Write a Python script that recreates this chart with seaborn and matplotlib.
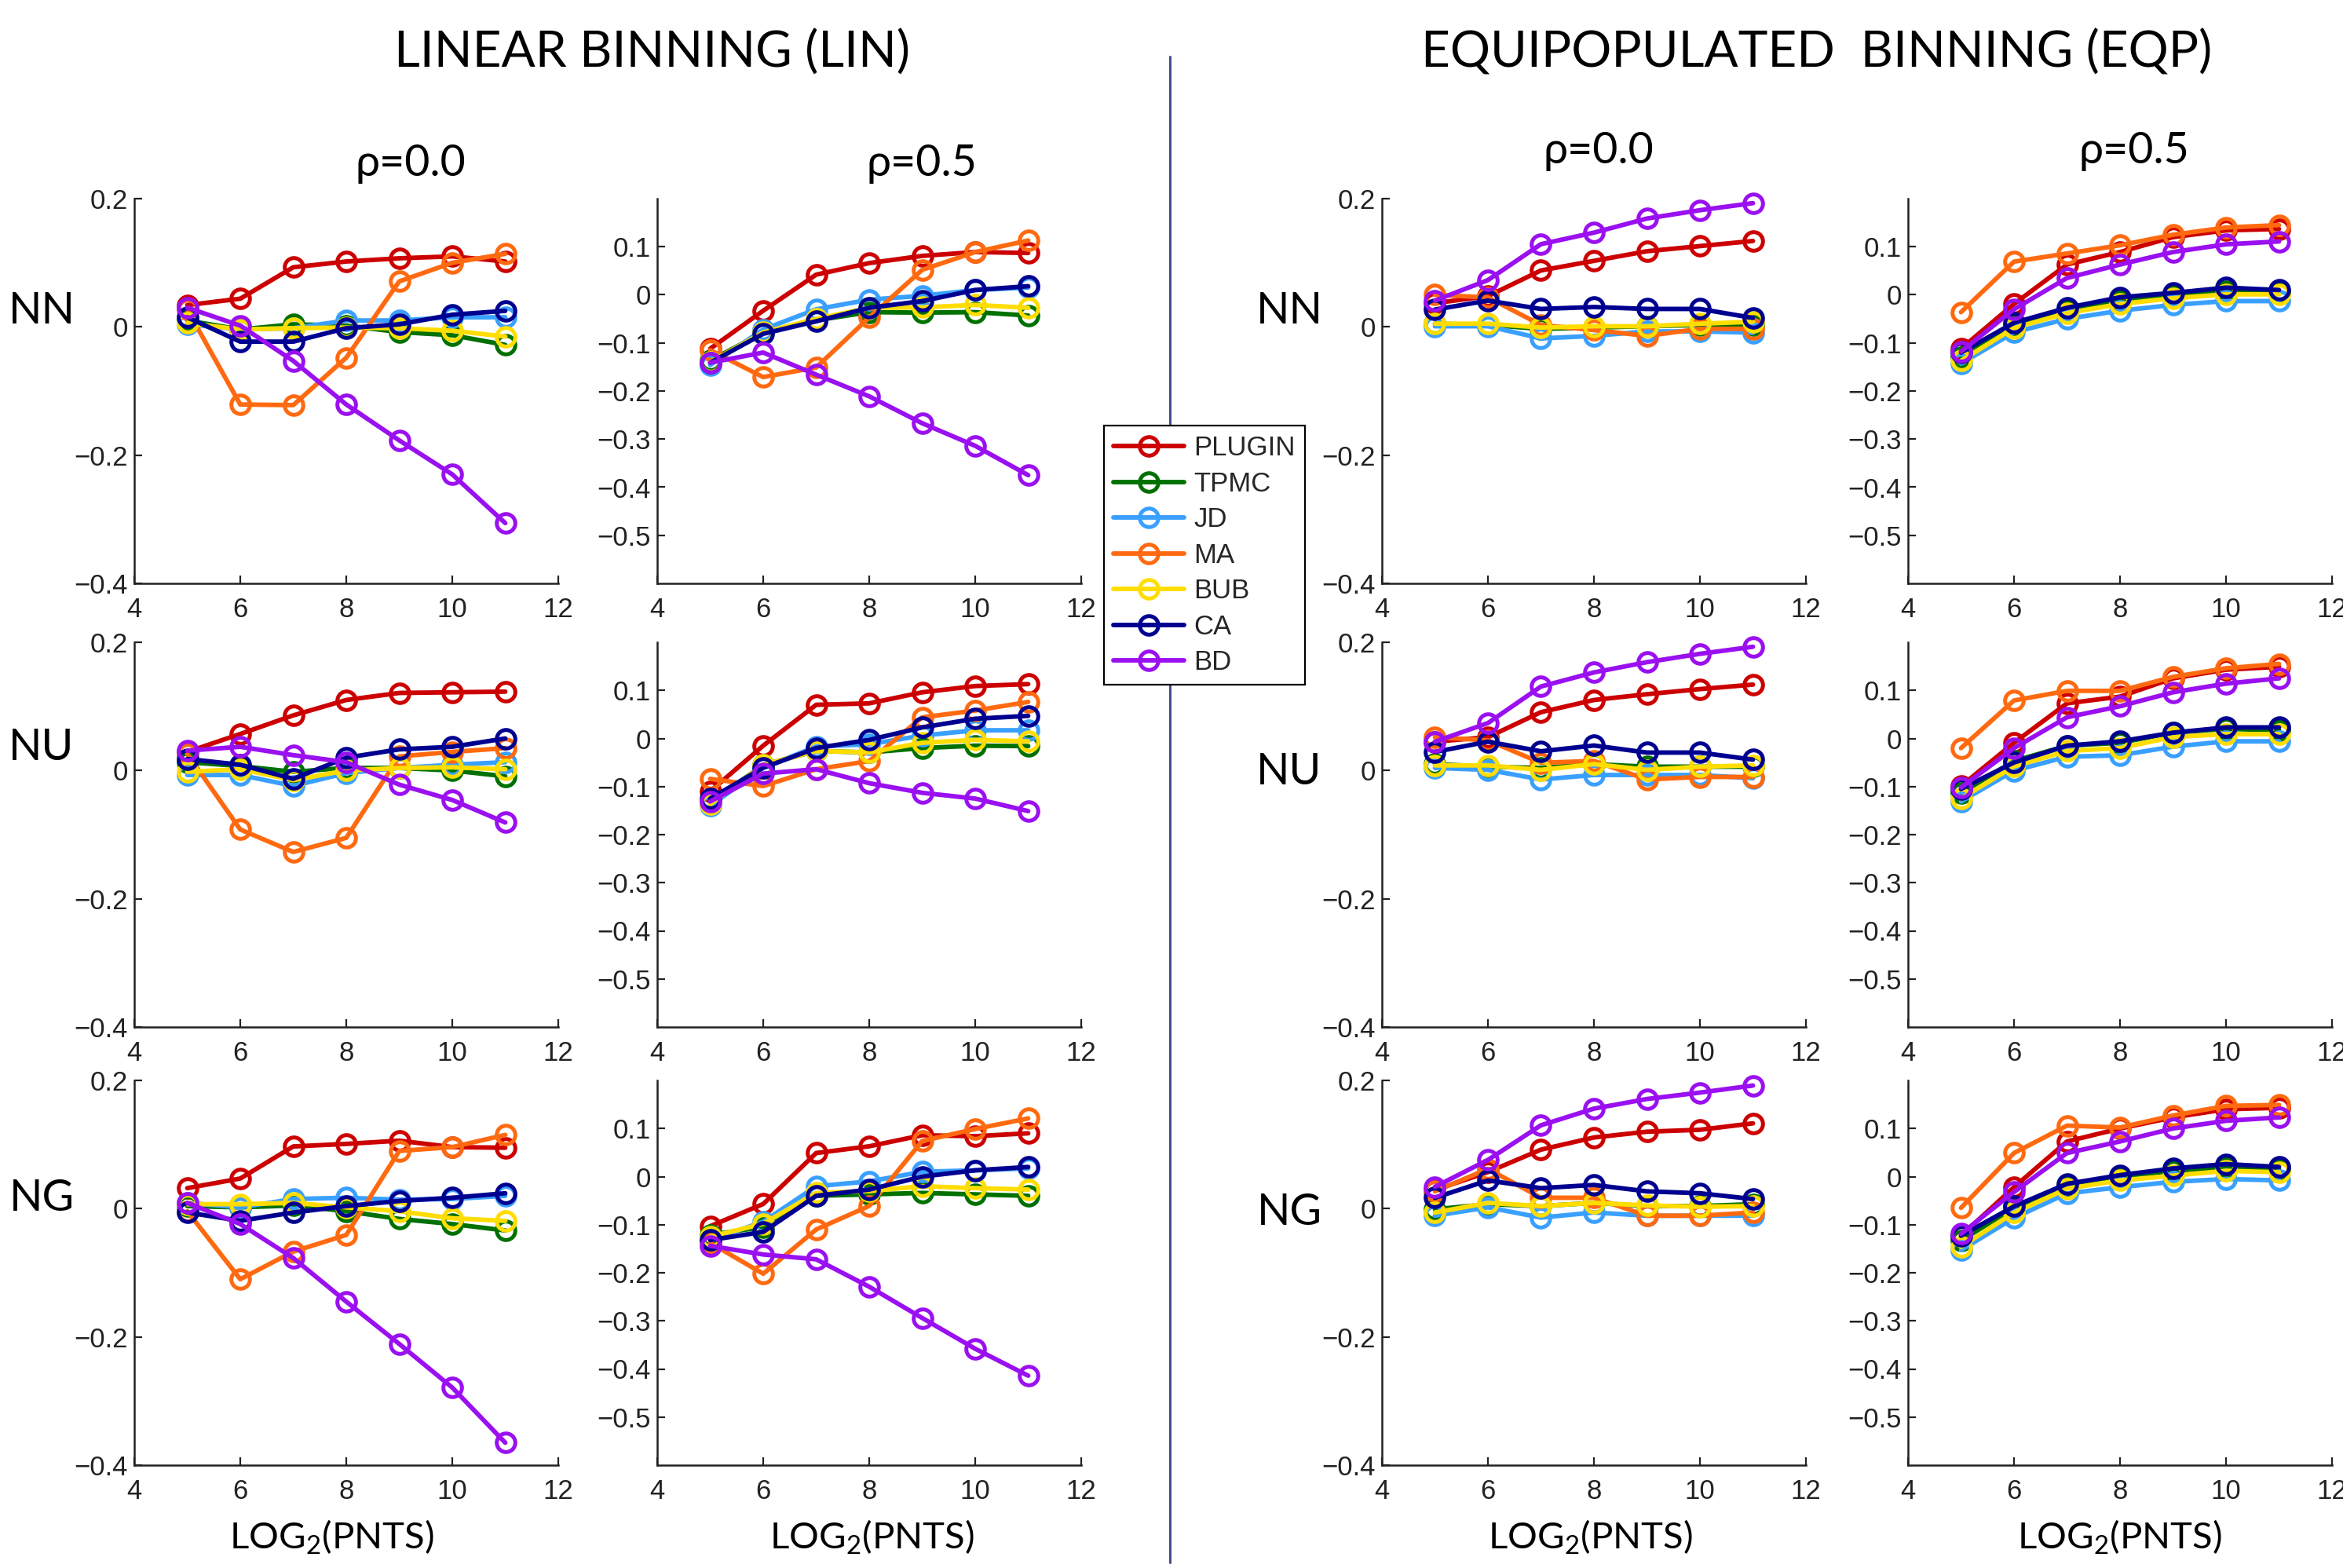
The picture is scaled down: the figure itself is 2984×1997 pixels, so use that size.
import matplotlib
matplotlib.use("Agg")
import matplotlib.pyplot as plt
import numpy as np
import pandas as pd
import seaborn as sns
from matplotlib.ticker import FuncFormatter
from matplotlib.lines import Line2D

# ---------------- data ----------------
METHODS = ["PLUGIN", "TPMC", "JD", "MA", "BUB", "CA", "BD"]
COLORS = ["#cc0000", "#007000", "#3aa0ff", "#ff6a10", "#ffdd00", "#000090", "#9a10f0"]
LOG2_PNTS = [5, 6, 7, 8, 9, 10, 11]
ROW_LABELS = ["NN", "NU", "NG"]
X_TICKS = [4, 6, 8, 10, 12]
Y_TICKS_R00 = [-0.4, -0.2, 0.0, 0.2]
Y_TICKS_R05 = [-0.5, -0.4, -0.3, -0.2, -0.1, 0.0, 0.1]

# rows in each panel follow METHODS order
LIN_R00_NN = [[0.034, 0.044, 0.093, 0.102, 0.107, 0.110, 0.102],
              [0.010, -0.004, 0.004, 0.002, -0.008, -0.013, -0.028],
              [0.004, -0.004, -0.002, 0.010, 0.010, 0.015, 0.015],
              [0.027, -0.121, -0.122, -0.048, 0.071, 0.100, 0.114],
              [0.006, -0.004, -0.002, -0.001, -0.002, -0.006, -0.015],
              [0.015, -0.023, -0.023, -0.002, 0.004, 0.019, 0.025],
              [0.030, 0.002, -0.053, -0.121, -0.177, -0.230, -0.306]]
LIN_R05_NN = [[-0.112, -0.033, 0.042, 0.066, 0.081, 0.089, 0.087],
              [-0.137, -0.078, -0.053, -0.036, -0.037, -0.036, -0.043],
              [-0.146, -0.072, -0.030, -0.010, -0.002, 0.010, 0.015],
              [-0.115, -0.171, -0.151, -0.047, 0.052, 0.089, 0.113],
              [-0.140, -0.078, -0.050, -0.027, -0.026, -0.021, -0.027],
              [-0.141, -0.081, -0.055, -0.027, -0.013, 0.010, 0.018],
              [-0.141, -0.120, -0.166, -0.211, -0.267, -0.314, -0.375]]
EQP_R00_NN = [[0.037, 0.048, 0.088, 0.103, 0.118, 0.126, 0.134],
              [0.005, 0.003, -0.003, -0.001, 0.001, 0.003, 0.003],
              [0.001, 0.001, -0.018, -0.014, -0.007, -0.007, -0.009],
              [0.050, 0.046, 0.003, -0.005, -0.014, -0.003, -0.003],
              [0.005, 0.005, -0.001, 0.001, 0.001, 0.005, 0.008],
              [0.027, 0.041, 0.028, 0.031, 0.028, 0.028, 0.014],
              [0.041, 0.073, 0.129, 0.147, 0.169, 0.182, 0.193]]
EQP_R05_NN = [[-0.112, -0.019, 0.063, 0.089, 0.120, 0.134, 0.137],
              [-0.129, -0.064, -0.033, -0.012, -0.002, 0.007, 0.004],
              [-0.143, -0.078, -0.050, -0.033, -0.021, -0.013, -0.013],
              [-0.036, 0.069, 0.086, 0.103, 0.125, 0.140, 0.145],
              [-0.137, -0.069, -0.038, -0.019, -0.007, 0.001, 0.001],
              [-0.120, -0.058, -0.027, -0.005, 0.004, 0.015, 0.010],
              [-0.118, -0.030, 0.035, 0.063, 0.089, 0.105, 0.111]]
LIN_R00_NU = [[0.029, 0.057, 0.086, 0.110, 0.121, 0.122, 0.123],
              [0.013, 0.007, -0.002, 0.004, 0.004, 0.000, -0.009],
              [-0.007, -0.007, -0.024, -0.004, 0.004, 0.009, 0.013],
              [0.026, -0.092, -0.127, -0.105, 0.022, 0.029, 0.035],
              [-0.002, 0.002, -0.015, 0.000, 0.004, 0.005, 0.002],
              [0.018, 0.009, -0.013, 0.020, 0.033, 0.037, 0.050],
              [0.031, 0.037, 0.024, 0.013, -0.022, -0.046, -0.081]]
LIN_R05_NU = [[-0.110, -0.015, 0.070, 0.073, 0.096, 0.109, 0.113],
              [-0.134, -0.055, -0.026, -0.029, -0.020, -0.015, -0.016],
              [-0.140, -0.061, -0.017, -0.012, 0.006, 0.017, 0.017],
              [-0.084, -0.099, -0.064, -0.047, 0.044, 0.058, 0.076],
              [-0.137, -0.055, -0.026, -0.029, -0.009, -0.003, -0.006],
              [-0.125, -0.061, -0.020, -0.003, 0.023, 0.041, 0.047],
              [-0.131, -0.073, -0.064, -0.093, -0.113, -0.125, -0.151]]
EQP_R00_NU = [[0.045, 0.052, 0.091, 0.110, 0.119, 0.127, 0.134],
              [0.010, 0.006, 0.004, 0.010, 0.006, 0.006, 0.006],
              [0.004, 0.001, -0.014, -0.007, -0.007, -0.007, -0.012],
              [0.052, 0.047, 0.012, 0.015, -0.014, -0.010, -0.010],
              [0.008, 0.008, 0.001, 0.010, 0.001, 0.006, 0.008],
              [0.029, 0.045, 0.030, 0.039, 0.028, 0.028, 0.017],
              [0.045, 0.074, 0.131, 0.153, 0.169, 0.182, 0.193]]
EQP_R05_NU = [[-0.099, -0.009, 0.073, 0.087, 0.125, 0.143, 0.149],
              [-0.114, -0.047, -0.015, -0.009, 0.012, 0.020, 0.017],
              [-0.131, -0.067, -0.038, -0.035, -0.017, -0.006, -0.006],
              [-0.020, 0.079, 0.099, 0.099, 0.128, 0.146, 0.155],
              [-0.125, -0.058, -0.026, -0.020, 0.003, 0.009, 0.009],
              [-0.105, -0.050, -0.015, -0.006, 0.012, 0.023, 0.023],
              [-0.102, -0.020, 0.044, 0.067, 0.096, 0.114, 0.125]]
LIN_R00_NG = [[0.032, 0.047, 0.097, 0.101, 0.106, 0.096, 0.095],
              [0.004, 0.002, 0.005, -0.004, -0.016, -0.024, -0.034],
              [0.009, 0.002, 0.015, 0.017, 0.014, 0.015, 0.020],
              [-0.004, -0.110, -0.067, -0.041, 0.090, 0.096, 0.115],
              [0.007, 0.007, 0.009, 0.002, -0.004, -0.015, -0.019],
              [-0.006, -0.019, -0.006, 0.004, 0.012, 0.017, 0.024],
              [0.009, -0.024, -0.077, -0.145, -0.211, -0.279, -0.365]]
LIN_R05_NG = [[-0.103, -0.057, 0.049, 0.063, 0.086, 0.084, 0.090],
              [-0.121, -0.105, -0.040, -0.037, -0.034, -0.037, -0.040],
              [-0.132, -0.094, -0.020, -0.010, 0.010, 0.013, 0.017],
              [-0.138, -0.202, -0.110, -0.061, 0.074, 0.099, 0.121],
              [-0.125, -0.098, -0.034, -0.030, -0.020, -0.024, -0.027],
              [-0.132, -0.115, -0.040, -0.027, 0.000, 0.013, 0.020],
              [-0.144, -0.162, -0.172, -0.229, -0.294, -0.358, -0.414]]
EQP_R00_NG = [[0.029, 0.057, 0.092, 0.111, 0.120, 0.123, 0.133],
              [-0.001, 0.007, 0.004, 0.009, 0.004, 0.004, 0.007],
              [-0.011, 0.002, -0.014, -0.006, -0.011, -0.011, -0.011],
              [0.027, 0.062, 0.017, 0.017, -0.011, -0.011, -0.006],
              [-0.006, 0.009, 0.004, 0.009, 0.005, 0.003, 0.004],
              [0.017, 0.044, 0.032, 0.037, 0.027, 0.024, 0.015],
              [0.034, 0.076, 0.130, 0.156, 0.171, 0.181, 0.192]]
EQP_R05_NG = [[-0.123, -0.022, 0.073, 0.100, 0.123, 0.140, 0.143],
              [-0.133, -0.065, -0.018, -0.001, 0.012, 0.019, 0.015],
              [-0.153, -0.086, -0.035, -0.022, -0.011, -0.005, -0.008],
              [-0.065, 0.049, 0.106, 0.102, 0.127, 0.147, 0.149],
              [-0.146, -0.075, -0.025, -0.008, 0.002, 0.012, 0.009],
              [-0.123, -0.062, -0.015, 0.003, 0.017, 0.026, 0.020],
              [-0.119, -0.032, 0.049, 0.073, 0.100, 0.116, 0.123]]

PANELS = [[LIN_R00_NN, LIN_R05_NN, EQP_R00_NN, EQP_R05_NN],
          [LIN_R00_NU, LIN_R05_NU, EQP_R00_NU, EQP_R05_NU],
          [LIN_R00_NG, LIN_R05_NG, EQP_R00_NG, EQP_R05_NG]]

# ---------------- style ----------------
sns.set_theme(style="ticks")
plt.rcParams["font.family"] = ["Liberation Sans", "DejaVu Sans"]
plt.rcParams["mathtext.fontset"] = "custom"
plt.rcParams["mathtext.rm"] = "Lato"
plt.rcParams["mathtext.it"] = "Lato:italic"
plt.rcParams["mathtext.bf"] = "Lato:bold"

W, H = 2984, 1997
fig = plt.figure(figsize=(W / 100, H / 100), dpi=100)
fig.patch.set_facecolor("white")

TXT = ["Lato", "DejaVu Sans"]
INK = "#222222"

col_left = [171, 837, 1760, 2430]
col_w = 540
row_top = [253, 818, 1376]
row_h = 490
col_ylim = [(-0.4, 0.2), (-0.6, 0.2), (-0.4, 0.2), (-0.6, 0.2)]
col_yt = [Y_TICKS_R00, Y_TICKS_R05, Y_TICKS_R00, Y_TICKS_R05]


def fmt(v, p):
    s = "%g" % round(v, 3)
    return s.replace("-", "\u2212")


axes = []
for r in range(3):
    for c in range(4):
        ax = fig.add_axes([col_left[c] / W, 1 - (row_top[r] + row_h) / H,
                           col_w / W, row_h / H])
        vals = PANELS[r][c]
        df = pd.DataFrame({
            "log2pnts": np.tile(LOG2_PNTS, len(METHODS)),
            "bias": np.concatenate([np.asarray(v) for v in vals]),
            "method": np.repeat(METHODS, len(LOG2_PNTS)),
        })
        sns.lineplot(data=df, x="log2pnts", y="bias", hue="method",
                     hue_order=METHODS, palette=COLORS, marker="o",
                     markersize=17, markerfacecolor="none",
                     markeredgewidth=3.6, linewidth=4.2, errorbar=None,
                     legend=False, ax=ax)
        for ln in ax.get_lines():
            ln.set_markeredgecolor(ln.get_color())
            ln.set_clip_on(False)
        ax.set_xlim(4, 12)
        ax.set_ylim(*col_ylim[c])
        ax.set_xticks(X_TICKS)
        ax.set_yticks(col_yt[c])
        ax.yaxis.set_major_formatter(FuncFormatter(fmt))
        ax.xaxis.set_major_formatter(FuncFormatter(fmt))
        ax.set_xlabel("")
        ax.set_ylabel("")
        ax.set_facecolor("none")
        for s in ["top", "right"]:
            ax.spines[s].set_visible(False)
        for s in ["left", "bottom"]:
            ax.spines[s].set_color(INK)
            ax.spines[s].set_linewidth(1.8)
        ax.tick_params(axis="both", direction="in", length=7, width=1.6,
                       colors=INK, labelsize=25, labelcolor=INK)
        ax.tick_params(axis="x", pad=12)
        ax.tick_params(axis="y", pad=6)
        axes.append(ax)

# ---------------- texts ----------------
fig.text(830 / W, 1 - 67 / H, "LINEAR BINNING (LIN)", family=TXT, fontsize=46,
         ha="center", va="center", color="black")
fig.text(2314 / W, 1 - 67 / H, "EQUIPOPULATED  BINNING (EQP)", family=TXT,
         fontsize=46, ha="center", va="center", color="black")

for (x, y, s) in [(523, 209, "\u03c1=0.0"), (1174, 209, "\u03c1=0.5"),
                  (2036, 192, "\u03c1=0.0"), (2718, 192, "\u03c1=0.5")]:
    fig.text(x / W, 1 - y / H, s, family=TXT, fontsize=40, ha="center",
             va="center", color="black")

for (x, y, s) in [(53, 396, "NN"), (53, 952, "NU"), (53, 1526, "NG"),
                  (1642, 396, "NN"), (1642, 984, "NU"), (1642, 1545, "NG")]:
    fig.text(x / W, 1 - y / H, s, family=TXT, fontsize=40, ha="center",
             va="center", color="black")

for x in [422, 1110, 2025, 2699]:
    fig.text(x / W, 1 - 1958 / H, r"LOG$_2$(PNTS)", family=TXT, fontsize=34,
             ha="center", va="center", color="black")

# divider
fig.add_artist(Line2D([1490 / W, 1490 / W], [1 - 72 / H, 1 - 1990 / H],
                      transform=fig.transFigure, color="#4b4b8f", lw=2.2))

# legend built from the first panel's lines
handles = axes[0].get_lines()[:len(METHODS)]
leg = fig.legend(handles, METHODS, loc="upper left",
                 bbox_to_anchor=(1406 / W, 1 - 542 / H),
                 frameon=True, fancybox=False, framealpha=1,
                 edgecolor="black", prop={"family": "Liberation Sans", "size": 25},
                 handlelength=2.6, handletextpad=0.35, borderpad=0.35,
                 labelspacing=0.36, borderaxespad=0.0, numpoints=1)
leg.get_frame().set_linewidth(1.6)

fig.savefig("out.png", dpi=100, facecolor="white")
